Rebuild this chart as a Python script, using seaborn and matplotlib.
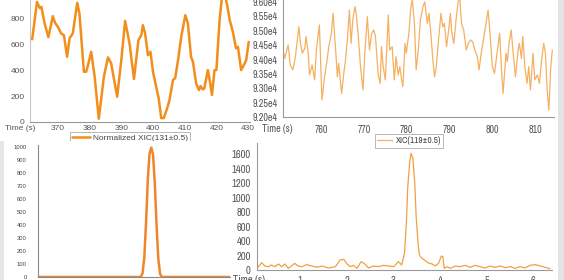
import numpy as np
import pandas as pd
import matplotlib
matplotlib.use("Agg")
import matplotlib.pyplot as plt
from matplotlib.patches import Rectangle
from matplotlib.ticker import FuncFormatter
from matplotlib import font_manager
import seaborn as sns

# ---------------- data ----------------
# Panel 1: Normalized XIC(131±0.5)
t1 = [361.1, 361.9, 363.4, 364.3, 364.8, 365.8, 367.0, 368.4, 369.1, 370.0, 371.0, 371.9,
      372.9, 373.7, 374.7, 376.1, 376.8, 378.2, 378.9, 379.5, 380.5, 381.6, 382.9, 384.5,
      385.8, 386.8, 388.7, 390.0, 391.2, 392.6, 394.0, 395.4, 396.3, 396.8, 397.5, 398.4,
      399.2, 400.0, 401.0, 401.8, 402.6, 403.4, 404.5, 405.2, 406.3, 407.0, 407.9, 408.9,
      410.2, 411.0, 412.0, 412.6, 413.6, 414.5, 415.0, 415.7, 416.2, 417.3, 417.8, 418.6,
      419.4, 420.0, 421.0, 421.7, 422.5, 423.4, 424.2, 425.2, 426.2, 426.8, 427.8, 428.9,
      429.4, 430.2]
v1 = [646, 638, 925, 877, 887, 760, 654, 815, 764, 733, 683, 669,
      502, 646, 683, 918, 836, 387, 387, 438, 541, 348, 25, 348,
      498, 452, 195, 477, 779, 605, 331, 630, 669, 746, 684, 515,
      541, 387, 271, 182, 30, 30, 107, 169, 323, 338, 477, 656,
      823, 761, 502, 464, 298, 246, 277, 251, 259, 400, 336, 208,
      400, 400, 785, 950, 1000, 900, 785, 694, 567, 579, 400, 451,
      477, 617]
label1 = "Normalized XIC(131±0.5)"

# Panel 2: XIC(119±0.5)
t2 = [751.1, 751.5, 752.3, 752.8, 753.4, 754.0, 754.8, 755.2, 755.6, 756.2, 756.5, 757.0,
      757.3, 757.9, 758.5, 758.9, 759.6, 760.2, 760.8, 761.3, 761.8, 762.4, 762.8, 763.4,
      763.8, 764.1, 764.8, 765.3, 765.7, 766.2, 766.6, 767.0, 767.4, 767.9, 768.2, 768.7,
      769.2, 769.8, 770.2, 770.8, 771.3, 771.8, 772.3, 772.7, 773.3, 773.8, 774.1, 774.5,
      775.0, 775.7, 776.0, 776.6, 777.1, 777.5, 778.0, 778.4, 778.8, 779.1, 779.6, 779.9,
      780.5, 780.9, 781.3, 781.8, 782.2, 782.7, 783.2, 783.8, 784.2, 784.8, 785.2, 785.7,
      786.1, 786.5, 786.9, 787.5, 788.0, 788.4, 788.8, 789.3, 789.8, 790.2, 790.5, 791.0,
      791.6, 792.0, 792.4, 792.8, 793.3, 793.9, 794.4, 794.9, 795.4, 795.9, 796.5, 796.9,
      797.4, 797.9, 798.4, 799.0, 799.4, 800.0, 800.5, 801.0, 801.4, 801.7, 802.1, 802.5,
      802.9, 803.2, 803.5, 803.9, 804.4, 804.8, 805.4, 805.8, 806.0, 806.3, 806.8, 807.1,
      807.6, 808.1, 808.5, 808.9, 809.5, 809.9, 810.5, 811.0, 811.5, 812.0, 812.4, 812.8,
      813.2, 813.6, 814.0]
v2 = [94330, 94040, 94510, 93810, 93640, 94100, 95140, 94560, 94220, 94390, 94800, 94220,
      93460, 93810, 93290, 94330, 95200, 92590, 93400, 93870, 94450, 94910, 95610, 94330,
      93400, 93870, 92820, 93520, 93980, 94800, 95720, 94560, 95380, 95840, 95610, 94800,
      93750, 92940, 94220, 95490, 94330, 94910, 95030, 94800, 93520, 93170, 94450, 93750,
      93290, 95550, 94330, 94450, 93290, 94100, 93460, 93750, 93290, 93060, 94560, 94220,
      94910, 95720, 96100, 95260, 93640, 94330, 95380, 95840, 96010, 95260, 95610, 94800,
      93980, 93400, 93750, 94800, 95610, 95140, 95260, 94450, 95030, 95610, 94970, 94560,
      95490, 96010, 96100, 95260, 95030, 94330, 94560, 94680, 94620, 94330, 94100, 93640,
      94220, 94680, 95140, 95720, 95030, 93750, 93520, 94100, 94560, 94910, 93750, 92820,
      93640, 94220, 93930, 94560, 95030, 94330, 93400, 93980, 94330, 94560, 94040, 94800,
      93750, 93170, 93750, 92940, 94220, 93290, 93460, 93170, 93980, 94560, 94220, 92940,
      92240, 93640, 94330]
label2 = "XIC(119±0.5)"

# Panel 3: single Gaussian-like peak
x3 = [0.11, 3.05, 3.10, 3.15, 3.20, 3.25, 3.30, 3.35, 3.40, 3.45, 3.50, 3.55, 3.60, 3.65, 5.60]
y3 = [0, 0, 30, 150, 420, 750, 950, 995, 940, 720, 400, 140, 25, 0, 0]

# Panel 4: noisy trace with main peak
x4 = [0.08, 0.18, 0.25, 0.32, 0.39, 0.46, 0.54, 0.61, 0.68, 0.75, 0.82, 0.89, 0.96, 1.04,
      1.14, 1.26, 1.36, 1.47, 1.61, 1.76, 1.86, 1.94, 2.01, 2.08, 2.15, 2.22, 2.31, 2.39,
      2.47, 2.58, 2.69, 2.79, 2.90, 3.01, 3.11, 3.18, 3.24, 3.28, 3.31, 3.35, 3.38, 3.42,
      3.46, 3.49, 3.53, 3.56, 3.61, 3.67, 3.74, 3.83, 3.90, 3.97, 4.03, 4.06, 4.09, 4.15,
      4.22, 4.33, 4.43, 4.54, 4.65, 4.75, 4.86, 4.97, 5.07, 5.18, 5.29, 5.40, 5.50, 5.61,
      5.72, 5.82, 5.93, 6.04, 6.15, 6.25, 6.36]
y4 = [23, 100, 55, 45, 69, 45, 83, 45, 83, 23, 55, 92, 55, 45,
      74, 55, 37, 55, 28, 46, 138, 147, 83, 46, 64, 23, 115, 83,
      28, 55, 46, 64, 55, 46, 115, 69, 230, 644, 1149, 1471, 1610, 1540,
      1195, 735, 368, 207, 161, 138, 101, 83, 55, 92, 193, 184, 23, 46,
      23, 55, 46, 64, 37, 64, 46, 28, 55, 37, 55, 32, 46, 23,
      46, 28, 64, 74, 55, 37, 18]

x1_ticks = [370, 380, 390, 400, 410, 420, 430]
y1_ticks = [0, 200, 400, 600, 800]
x2_ticks = [760, 770, 780, 790, 800, 810]
y2_ticks = [92000, 92500, 93000, 93500, 94000, 94500, 95000, 95500, 96000]
y3_ticks = [0, 100, 200, 300, 400, 500, 600, 700, 800, 900, 1000]
x3_ticks = [1, 2, 3, 4, 5]
y4_ticks = [0, 200, 400, 600, 800, 1000, 1200, 1400, 1600]
x4_ticks = [1, 2, 3, 4, 5, 6]

# ---------------- styling ----------------
sns.set_theme(style="white")
plt.rcParams['font.family'] = ['Liberation Sans', 'DejaVu Sans']

# pick a condensed face if one is installed
_cond = [f for f in font_manager.fontManager.ttflist
         if ('Narrow' in f.name or 'Condensed' in f.name or 'Condensed' in f.fname
             or f.stretch in ('condensed', 'semi-condensed', 'extra-condensed', 'ultra-condensed', 300, 400))]
NARROW_FP = None
for f in _cond:
    if 'Narrow' in f.name and f.weight in (400, 'normal', 'regular') and f.style == 'normal':
        NARROW_FP = f.fname
        break
if NARROW_FP is None:
    for f in _cond:
        if f.style == 'normal' and f.weight in (400, 'normal', 'regular') and 'Bold' not in f.fname:
            NARROW_FP = f.fname
            break


def narrow_props(size):
    if NARROW_FP:
        return font_manager.FontProperties(fname=NARROW_FP, size=size)
    return font_manager.FontProperties(family='Liberation Sans', size=size)


W, H = 564, 280
fig = plt.figure(figsize=(W / 100, H / 100), dpi=100)
fig.patch.set_facecolor('white')


def box(l, t, r, b):
    return [l / W, 1 - b / H, (r - l) / W, (b - t) / H]


def style_axes(ax, spine_col='#9a9a9a'):
    ax.set_facecolor('none')
    for s in ['top', 'right']:
        ax.spines[s].set_visible(False)
    for s in ['left', 'bottom']:
        ax.spines[s].set_color(spine_col)
        ax.spines[s].set_linewidth(0.8)
    ax.set_xlabel('')
    ax.set_ylabel('')


# ---- Panel 1 ----
ax1 = fig.add_axes(box(30, 0, 250, 122))
ax1.set_zorder(0)
df1 = pd.DataFrame({'t': t1, 'v': v1})
sns.lineplot(data=df1, x='t', y='v', ax=ax1, color='#f28e1c', lw=1.8,
             estimator=None, sort=False, label=label1)
style_axes(ax1)
ax1.spines['left'].set_color('#c8c8c8')
ax1.set_xlim(361.2, 430.6)
ax1.set_ylim(0, 940)
ax1.set_xticks(x1_ticks)
ax1.set_yticks(y1_ticks)
ax1.tick_params(axis='both', labelsize=6.0, colors='#888888', labelcolor='#555555',
                length=1.5, width=0.6, direction='out')
ax1.tick_params(axis='x', pad=0.5)
ax1.tick_params(axis='y', pad=4, length=0)
fig.text(5 / W, 1 - 129 / H, 'Time (s)', fontsize=6.0, color='#555555', va='center', ha='left')
leg1 = ax1.legend(loc='upper center', bbox_to_anchor=(130 / W, 1 - 132 / H),
                  bbox_transform=fig.transFigure, fontsize=6.0, frameon=True,
                  fancybox=False, borderpad=0.2, handlelength=2.2, handletextpad=0.4,
                  borderaxespad=0)
leg1.get_frame().set_edgecolor('#999999')
leg1.get_frame().set_linewidth(0.6)
for txt in leg1.get_texts():
    txt.set_color('#444444')

# ---- Panel 2 ----
ax2 = fig.add_axes(box(283, 0, 554, 117))
ax2.set_zorder(3)
df2 = pd.DataFrame({'t': t2, 'v': v2})
sns.lineplot(data=df2, x='t', y='v', ax=ax2, color='#f5b062', lw=0.9,
             estimator=None, sort=False, label=label2)
style_axes(ax2)
ax2.set_xlim(751.1, 814.4)
ax2.set_ylim(92000, 96072)
ax2.set_xticks(x2_ticks)
ax2.set_yticks(y2_ticks)
ax2.yaxis.set_major_formatter(FuncFormatter(lambda v, p: f"{v / 1e4:.2f}e4"))
ax2.tick_params(axis='both', colors='#888888', labelcolor='#555555',
                length=2.5, width=0.6, direction='out')
ax2.tick_params(axis='x', pad=3.5)
ax2.tick_params(axis='y', pad=1.5)
for lab in ax2.get_xticklabels() + ax2.get_yticklabels():
    lab.set_fontproperties(narrow_props(7.2))
fig.text(262 / W, 1 - 129 / H, 'Time (s)', color='#555555', va='center',
         ha='left', fontproperties=narrow_props(7.2))
leg2 = ax2.legend(loc='upper center', bbox_to_anchor=(409 / W, 1 - 134 / H),
                  bbox_transform=fig.transFigure, frameon=True,
                  fancybox=False, borderpad=0.25, handlelength=1.6, handletextpad=0.4,
                  borderaxespad=0, prop=narrow_props(6.6))
leg2.get_frame().set_edgecolor('#999999')
leg2.get_frame().set_linewidth(0.6)
for txt in leg2.get_texts():
    txt.set_color('#444444')

# ---- screenshot backgrounds for the lower row ----
fig.add_artist(Rectangle((0, 0), 235 / W, 1 - 141 / H, transform=fig.transFigure,
                         facecolor='white', edgecolor='none', zorder=1))
fig.add_artist(Rectangle((0, 0), 4 / W, 1 - 141 / H, transform=fig.transFigure,
                         facecolor='#e6e6e6', edgecolor='none', zorder=1.1))
fig.add_artist(Rectangle((558 / W, 0), 6 / W, 1, transform=fig.transFigure,
                         facecolor='#e4e4e4', edgecolor='none', zorder=5))

# ---- Panel 3 ----
ax3 = fig.add_axes(box(38, 145, 230, 277))
ax3.set_zorder(2)
df3 = pd.DataFrame({'x': x3, 'y': y3})
sns.lineplot(data=df3, x='x', y='y', ax=ax3, color='#f0862a', lw=1.8,
             estimator=None, sort=False)
style_axes(ax3, '#8a8a8a')
ax3.set_xlim(0.11, 5.6)
ax3.set_ylim(0, 1015)
ax3.set_yticks(y3_ticks)
ax3.set_xticks(x3_ticks)
ax3.set_xticklabels([''] * len(x3_ticks))
ax3.tick_params(axis='y', labelsize=4.2, colors='#777777', labelcolor='#444444',
                length=2, width=0.6, pad=6, direction='out')
ax3.tick_params(axis='x', length=4, width=0.6, colors='#777777', direction='out')

# ---- Panel 4 ----
ax4 = fig.add_axes(box(257, 143, 552, 270))
ax4.set_zorder(2)
df4 = pd.DataFrame({'x': x4, 'y': y4})
sns.lineplot(data=df4, x='x', y='y', ax=ax4, color='#f0a040', lw=0.9,
             estimator=None, sort=False)
style_axes(ax4, '#9a9a9a')
ax4.set_xlim(0.08, 6.40)
ax4.set_ylim(0, 1752)
ax4.set_yticks(y4_ticks)
ax4.set_xticks(x4_ticks)
ax4.tick_params(axis='both', colors='#888888', labelcolor='#555555',
                length=2.5, width=0.6, direction='out')
ax4.tick_params(axis='x', pad=1.5)
ax4.tick_params(axis='y', pad=2)
for lab in ax4.get_xticklabels() + ax4.get_yticklabels():
    lab.set_fontproperties(narrow_props(7.6))
fig.text(233 / W, 1 - 280 / H, 'Time (s)', color='#555555', va='center',
         ha='left', fontproperties=narrow_props(7.6))

fig.savefig('out.png', dpi=100, facecolor='white')
